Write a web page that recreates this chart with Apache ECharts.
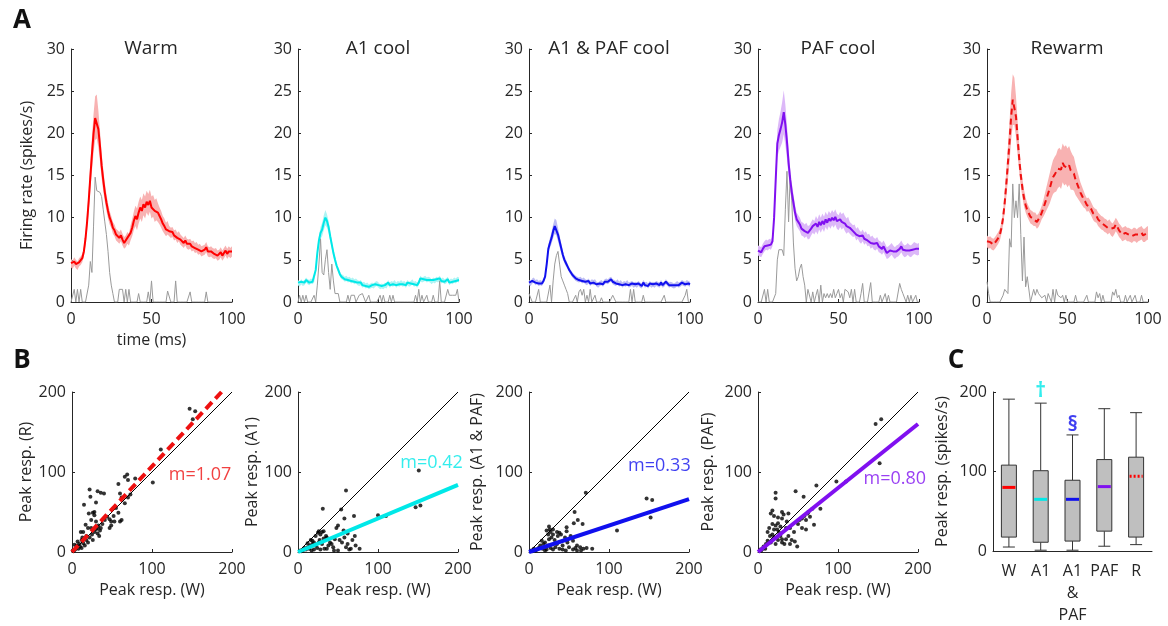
<!DOCTYPE html>
<html><head><meta charset="utf-8">
<script src="https://cdn.jsdelivr.net/npm/echarts@6/dist/echarts.min.js"></script>
<style>html,body{margin:0;padding:0;background:#fff}#c{width:1168px;height:626px}</style>
</head><body><div id="c"></div>
<script>
// ---------- Panel A data (1 ms bins, 0..100 ms) ----------
const conditions = ['Warm', 'A1 cool', 'A1 & PAF cool', 'PAF cool', 'Rewarm'];
const timeTicks = [0, 50, 100];
const rateTicks = [0, 5, 10, 15, 20, 25, 30];

const warmMean = [4.6,4.4,4.8,4.5,4.3,4.7,4.9,5.2,6.0,7.5,
 9.5,12.0,14.8,17.5,20.0,21.8,22.0,20.5,18.5,16.2,
 14.5,13.0,11.8,10.8,10.0,9.5,8.8,8.5,8.0,7.8,
 7.6,7.9,7.4,7.0,7.2,7.6,7.4,8.2,8.8,9.6,
 10.2,9.8,10.6,11.2,10.8,11.6,11.2,11.9,11.5,12.0,
 11.2,11.4,10.8,11.0,10.6,10.2,9.8,9.3,9.0,8.6,
 8.8,8.4,8.2,8.3,7.9,8.0,7.6,7.8,7.4,7.2,
 7.0,7.3,6.9,6.8,6.9,6.6,6.7,6.4,6.5,6.2,
 6.3,6.0,6.1,6.2,6.5,6.0,5.9,6.0,5.8,5.7,
 5.8,5.5,5.6,5.9,5.5,5.8,6.1,5.7,6.0,5.8,
 6.0];
const warmSem = [0.5,0.5,0.5,0.5,0.5,0.5,0.5,0.5,0.6,0.8,
 1.0,1.3,1.6,2.0,2.3,2.6,2.6,2.2,1.8,1.5,
 1.3,1.1,1.0,0.9,0.8,0.7,0.7,0.7,0.7,0.7,
 0.7,0.7,0.7,0.7,0.7,0.7,0.7,0.9,1.0,1.1,
 1.2,1.3,1.3,1.3,1.3,1.3,1.3,1.3,1.3,1.3,
 1.3,1.3,1.3,1.3,1.1,1.0,1.0,0.9,0.9,0.8,
 0.8,0.6,0.6,0.6,0.6,0.6,0.6,0.6,0.6,0.6,
 0.6,0.6,0.6,0.6,0.6,0.6,0.6,0.6,0.6,0.6,
 0.6,0.6,0.6,0.6,0.6,0.6,0.6,0.6,0.6,0.6,
 0.6,0.6,0.6,0.6,0.6,0.6,0.6,0.6,0.6,0.6,
 0.6];
const warmUnit = [0,0,1.5,0,1.5,0,1.5,0,0,0,
 0,2.0,4.8,3.5,9.0,14.8,13.2,13.2,13.0,12.5,
 11.0,9.5,8.0,6.0,3.5,2.0,1.0,0,0,0,
 1.5,1.5,1.5,0,1.5,0,1.5,0,0,0,
 0,0,1.0,0,0,0,0,0,1.2,0,
 2.5,0,0,0,0,0,0,0,0,0,
 1.3,1.3,0,0,0,2.5,0,0,0,0,
 0,0,0,0,1.2,0,0,0,0,0,
 0,0,0,0,1.2,0,0,0,0,0,
 0,0,0,0,0,0,0,0,0,0,
 0];

const a1Mean = [2.3,2.1,2.4,2.2,2.3,2.6,2.4,2.3,2.5,2.4,
 2.6,3.8,5.8,7.3,8.2,8.6,9.4,10.0,9.6,8.9,
 7.8,6.8,5.8,5.0,4.3,3.8,3.3,3.0,2.9,2.7,
 2.8,2.6,2.7,2.5,2.6,2.4,2.5,2.3,2.2,2.3,
 2.0,2.1,1.9,2.0,1.8,1.9,2.0,1.9,2.1,2.2,
 2.0,1.8,1.9,1.8,2.0,1.9,2.3,2.0,2.2,2.1,
 2.3,2.0,2.2,2.1,2.3,2.1,2.2,2.0,2.3,2.1,
 2.2,2.4,2.1,2.2,2.0,2.3,2.8,2.6,2.7,2.8,
 2.6,2.7,2.6,2.4,2.6,2.5,2.7,2.6,2.8,2.5,
 2.6,2.4,2.5,2.7,2.3,2.5,2.4,2.6,2.5,2.7,
 2.6];
const a1Sem = [0.3,0.3,0.3,0.3,0.3,0.3,0.3,0.3,0.3,0.3,
 0.3,0.4,0.5,0.6,0.7,0.8,0.9,0.9,0.8,0.7,
 0.6,0.5,0.4,0.4,0.3,0.3,0.3,0.3,0.3,0.3,
 0.3,0.3,0.3,0.3,0.3,0.3,0.3,0.3,0.3,0.3,
 0.3,0.3,0.3,0.3,0.3,0.3,0.3,0.3,0.3,0.3,
 0.3,0.3,0.3,0.3,0.3,0.3,0.3,0.3,0.3,0.3,
 0.3,0.3,0.3,0.3,0.3,0.3,0.3,0.3,0.3,0.3,
 0.3,0.3,0.3,0.3,0.3,0.3,0.3,0.3,0.3,0.3,
 0.3,0.3,0.3,0.3,0.3,0.3,0.3,0.3,0.3,0.3,
 0.3,0.3,0.3,0.3,0.3,0.3,0.3,0.3,0.3,0.3,
 0.3];
const a1Unit = [0,0.8,0,0.8,0,0.8,0,0,0,0,
 0.8,0,2.0,4.5,7.5,3.5,3.2,5.0,6.2,3.5,
 1.5,4.5,2.5,1.0,1.0,1.0,0,0,0,0,
 0,0.8,0,0.8,0.8,0.8,0,0,0.8,1.0,
 1.0,0.8,0,0,0.8,0,0,0,0,0,
 0,0.8,0,0.8,0,0,0,0.8,0,0.8,
 0,0,0,0,0,0,0,0,0,0,
 0,0,0,0.8,0,1.5,0,0.8,0,0,
 0.8,0,0,0,0.8,0,0,0,2.5,0,
 0,0,0,1.5,0.8,0.8,0.8,0.8,0.8,1.5,
 0];

const bothMean = [2.3,2.2,2.5,2.6,2.3,2.4,2.2,2.3,2.2,2.5,
 3.0,4.5,6.3,7.0,7.6,8.4,9.0,8.8,8.0,7.2,
 6.4,5.6,5.0,4.6,4.2,3.8,3.5,3.2,3.0,2.8,
 2.7,2.6,2.7,2.5,2.6,2.4,2.3,2.5,2.2,2.4,
 2.3,2.4,2.1,2.0,2.2,2.3,2.1,2.4,2.5,2.4,
 2.6,2.7,2.4,2.3,2.2,2.4,2.1,2.3,2.0,2.2,
 2.1,2.3,2.0,2.1,2.2,2.0,2.1,2.0,2.2,2.0,
 1.9,2.3,2.0,2.1,1.9,2.2,2.0,2.1,2.0,2.2,
 2.1,2.0,2.3,2.0,2.1,2.4,2.2,2.0,2.1,2.0,
 1.9,2.0,2.2,2.0,2.1,2.3,2.2,2.1,2.3,2.2,
 2.1];
const bothSem = [0.3,0.3,0.3,0.3,0.3,0.3,0.3,0.3,0.3,0.3,
 0.3,0.4,0.5,0.6,0.7,0.8,0.9,0.9,0.8,0.7,
 0.6,0.5,0.4,0.4,0.3,0.3,0.3,0.3,0.3,0.3,
 0.3,0.3,0.3,0.3,0.3,0.3,0.3,0.3,0.3,0.3,
 0.3,0.3,0.3,0.3,0.3,0.3,0.3,0.3,0.3,0.3,
 0.3,0.3,0.3,0.3,0.3,0.3,0.3,0.3,0.3,0.3,
 0.3,0.3,0.3,0.3,0.3,0.3,0.3,0.3,0.3,0.3,
 0.3,0.3,0.3,0.3,0.3,0.3,0.3,0.3,0.3,0.3,
 0.3,0.3,0.3,0.3,0.3,0.3,0.3,0.3,0.3,0.3,
 0.3,0.3,0.3,0.3,0.3,0.3,0.3,0.3,0.3,0.3,
 0.3];
const bothUnit = [1.0,1.0,0,0,0,0,1.5,0,0,0,
 0,0,0,2.0,0,2.5,4.5,5.5,6.0,4.5,
 3.0,2.5,2.0,1.5,1.0,0,0,0,0,0.8,
 0,1.2,1.5,0.8,1.5,0,0.8,0,1.5,0,
 0,0.8,0,0,0,0.5,0,0,0,0,
 0,0,0.8,0.8,0,0,0,0,0,0,
 0,0,0,1.5,0,1.5,0,0,0,0,
 0,0.8,0,0,0,0,0,0,0,0,
 0,0,0,0,0.8,0,0,0,0,0,
 0,0,0,0,0,0,0,0.8,1.5,0,
 0];

const pafMean = [6.1,6.0,5.9,6.3,6.6,6.8,6.7,6.9,6.8,7.2,
 10.0,14.5,18.8,19.8,20.5,21.3,22.5,21.0,19.0,16.5,
 14.5,13.0,11.8,10.6,9.8,9.5,9.2,8.7,8.6,8.4,
 8.6,8.2,8.3,8.7,9.0,8.8,9.3,8.9,9.5,9.1,
 9.6,9.2,9.8,9.4,9.9,9.6,10.0,9.7,10.1,9.6,
 9.4,9.8,9.5,9.7,9.3,9.0,9.2,8.8,8.6,8.4,
 8.5,8.0,8.2,7.8,7.6,7.9,7.5,7.7,7.3,7.4,
 7.0,7.2,6.9,6.8,7.0,6.6,6.5,6.3,6.6,6.2,
 5.8,5.9,6.1,6.3,6.0,5.8,6.0,6.1,6.3,6.6,
 6.2,6.0,6.1,6.3,6.1,6.0,6.2,6.4,6.3,6.2,
 6.3];
const pafSem = [0.6,0.6,0.6,0.6,0.6,0.6,0.6,0.6,0.6,0.6,
 0.9,1.2,1.6,1.9,2.1,2.4,2.6,2.4,2.0,1.6,
 1.3,1.1,1.0,0.9,0.8,0.8,0.8,0.8,0.8,0.8,
 0.8,0.8,0.8,0.8,0.8,0.8,0.9,0.9,0.9,0.9,
 0.9,0.9,0.9,0.9,0.9,0.9,0.9,0.9,0.9,0.9,
 0.9,0.9,0.9,0.9,0.9,0.9,0.9,0.7,0.7,0.7,
 0.7,0.7,0.7,0.7,0.7,0.7,0.7,0.7,0.7,0.7,
 0.7,0.7,0.7,0.7,0.7,0.7,0.7,0.7,0.7,0.7,
 0.7,0.7,0.7,0.7,0.7,0.7,0.7,0.7,0.7,0.7,
 0.7,0.7,0.7,0.7,0.7,0.7,0.7,0.7,0.7,0.7,
 0.7];
const pafUnit = [0,0,0,0,1.5,0,1.5,0,0,0,
 0,1.0,5.0,6.2,6.0,6.2,5.5,11.0,15.5,9.5,
 15.0,12.0,7.0,4.0,2.5,3.0,4.0,4.5,3.0,2.0,
 0,1.5,1.5,0,1.2,0,0.8,1.5,0,2.0,
 0,1.0,0.5,1.0,0.5,1.0,0.5,1.5,0.5,1.0,
 1.5,0.5,1.0,0,1.5,1.5,1.2,0.5,1.5,0,
 1.5,0,0,0,1.0,2.2,0,0,0,0,
 2.3,0,0,0,0,0,0.8,0,0,1.0,
 0,0.8,0,0,0,0,0,0,2.2,1.5,
 1.0,0.8,0,0.8,0,0.8,0,0,0.8,0,
 0];

const rewarmMean = [7.2,7.0,7.1,6.9,6.8,7.0,7.3,7.6,8.0,8.8,
 10.0,11.8,14.0,16.5,19.0,22.0,24.0,23.8,22.0,19.5,
 17.0,15.0,13.5,12.3,11.5,10.9,10.5,10.1,10.0,9.8,
 9.8,9.5,9.7,10.1,10.6,11.1,11.7,12.3,12.9,13.5,
 14.2,14.8,15.1,15.3,15.8,16.0,15.7,16.5,16.1,16.3,
 15.9,16.2,15.6,15.4,15.2,14.5,14.0,13.5,13.0,12.6,
 12.2,11.9,11.5,11.6,11.3,10.9,10.5,10.3,10.2,9.8,
 9.6,9.4,9.3,9.1,9.0,8.8,9.0,8.7,8.5,8.8,
 9.2,8.9,8.5,8.3,8.0,8.1,8.2,8.0,8.0,7.9,
 7.8,8.0,8.0,7.8,8.0,8.1,8.2,7.9,7.9,8.1,
 8.2];
const rewarmSem = [0.7,0.7,0.7,0.7,0.7,0.7,0.7,0.7,0.7,0.7,
 0.9,1.2,1.6,2.0,2.4,2.8,3.0,2.8,2.4,2.0,
 1.6,1.3,1.1,1.0,0.9,0.8,0.8,0.8,0.8,0.8,
 0.8,0.8,0.8,0.8,0.8,1.0,1.2,1.4,1.6,1.8,
 1.9,2.0,2.1,2.2,2.3,2.3,2.3,2.3,2.3,2.3,
 2.3,2.3,2.3,2.1,2.0,1.8,1.6,1.4,1.2,1.1,
 1.0,0.8,0.8,0.8,0.8,0.8,0.8,0.8,0.8,0.8,
 0.8,0.8,0.8,0.8,0.8,0.8,0.8,0.8,0.8,0.8,
 0.8,0.8,0.8,0.8,0.8,0.8,0.8,0.8,0.8,0.8,
 0.8,0.8,0.8,0.8,0.8,0.8,0.8,0.8,0.8,0.8,
 0.8];
const rewarmUnit = [2.4,1.0,0,0,0,0,0,0,0,0,
 0.8,1.5,1.5,1.0,7.5,6.5,14.0,10.0,12.0,10.0,
 14.0,8.0,2.5,7.7,1.8,3.0,3.0,0,0,1.5,
 0.8,1.5,1.0,1.2,0.5,0.5,0.8,0,1.0,0.5,
 0,1.5,0,1.5,0.8,1.0,0.5,0.8,0,0.8,
 0,0,0,0,0,0.8,0,0,0,0,
 0,0,0.8,0,0,0,0,0,1.2,0.5,
 1.0,0,0.8,0,0,0,0,0,1.2,0.8,
 1.5,0.5,0.8,0,0,0,0.8,0,0,0.8,
 0,0,0.8,0,0,0,0.8,0,0,0,
 0];

// ---------- Panel B data: [peak W, peak under condition] ----------
const peakTicks = [0, 100, 200];
const slopes = [1.07, 0.42, 0.33, 0.80];
const scatterR = [[147,179],[154,176],[151,166],[111,128],[101,87],[66,94],[69,97],[79,92],[70,90],[58,85],
 [60,73],[22,78],[32,76],[36,74],[40,73],[66,61],[58,49],[15,59],[23,69],[30,62],
 [21,48],[26,49],[28,50],[28,46],[24,40],[30,38],[41,40],[47,41],[49,38],[53,38],
 [60,38],[62,40],[17,34],[14,25],[11,25],[20,30],[24,30],[32,23],[28,25],[32,30],
 [47,30],[49,33],[26,15],[12,15],[7,13],[3,9],[5,5],[1,2],[10,7],[14,11],
 [18,15],[8,4],[4,3],[2,1],[6,8],[9,10],[12,5],[16,8],[20,12],[22,18],
 [25,22],[30,28],[35,27],[34,20],[18,20],[13,18],[70,68],[73,72],[62,68],[55,55],
 [52,45],[44,44],[38,35],[36,30],[33,33]];
const scatterA1 = [[151,102],[147,56],[153,58],[110,45],[100,46],[31,54],[60,77],[54,53],[58,42],[70,45],
 [71,20],[77,4],[62,23],[50,33],[48,30],[57,27],[55,12],[62,10],[68,15],[72,8],
 [66,4],[50,2],[40,12],[35,20],[30,25],[28,22],[25,24],[22,20],[27,15],[32,17],
 [36,18],[20,12],[18,10],[15,8],[14,4],[12,6],[10,3],[8,5],[6,2],[4,1],
 [3,2],[24,5],[28,3],[33,4],[38,8],[42,10],[46,16],[20,3],[17,2],[22,8],
 [30,10],[26,12],[36,4],[44,6],[52,15],[58,18],[64,3],[60,6],[18,14],[12,11],
 [16,15],[45,2],[32,26],[26,26]];
const scatterA1PAF = [[71,74],[57,50],[61,40],[56,36],[67,35],[47,31],[47,26],[110,27],[147,67],[154,65],
 [152,43],[25,32],[22,27],[27,25],[30,22],[35,25],[38,24],[40,22],[45,18],[48,12],
 [52,20],[55,14],[60,8],[64,6],[68,4],[72,5],[79,4],[60,2],[55,3],[50,6],
 [42,8],[38,4],[33,6],[30,3],[27,5],[24,8],[20,12],[18,10],[16,14],[14,8],
 [12,5],[10,3],[8,2],[6,4],[4,1],[3,2],[20,2],[17,4],[22,3],[25,16],
 [28,18],[32,15],[35,10],[42,3],[46,2],[65,2],[58,5],[36,20],[26,28],[24,22],
 [30,28]];
const scatterPAF = [[147,160],[154,166],[152,111],[98,88],[110,88],[73,83],[47,76],[22,74],[22,67],[57,69],
 [78,54],[70,34],[60,28],[49,7],[18,52],[16,48],[20,45],[25,43],[30,50],[32,47],
 [25,36],[18,35],[22,33],[28,32],[35,30],[40,30],[45,25],[50,35],[52,40],[55,42],
 [58,45],[60,40],[62,48],[65,44],[55,30],[38,20],[35,16],[30,12],[28,20],[25,15],
 [22,10],[20,18],[18,22],[15,20],[12,14],[10,10],[8,6],[6,4],[4,2],[3,3],
 [14,30],[12,25],[42,15],[46,13],[40,10],[33,10],[30,16],[26,25],[24,28],[20,28],
 [16,12],[9,4],[7,7],[36,38],[63,50],[68,54],[38,48],[30,42]];

// ---------- Panel C data: [min, q1, median, q3, max] ----------
const boxCats = ['W', 'A1', 'A1\n&\nPAF', 'PAF', 'R'];
const boxStats = [[5,17.5,80,108,191],[1,11,65,101,186],[1,12.5,65,89,146],[6,25,81,115,179],[8,17.5,94,118,174]];
const markSymbols = [['†', 1, 201], ['§', 2, 159]];

// ---------- build ----------
const FONT = 'Open Sans';
const TXT = '#262626';
const timeMs = warmMean.map((_, i) => i);
const panelA = [
  {mean: warmMean, sem: warmSem, unit: warmUnit, color: '#ff0000', band: '#f8b2b2', dash: false},
  {mean: a1Mean, sem: a1Sem, unit: a1Unit, color: '#00e8e8', band: '#aef4f4', dash: false},
  {mean: bothMean, sem: bothSem, unit: bothUnit, color: '#1010ee', band: '#bcbcf4', dash: false},
  {mean: pafMean, sem: pafSem, unit: pafUnit, color: '#8010f0', band: '#dcb8f8', dash: false},
  {mean: rewarmMean, sem: rewarmSem, unit: rewarmUnit, color: '#ee1111', band: '#f8b2b2', dash: true}
];
const aLeft = [71, 298, 529, 758, 987];
const bLeft = [72, 298, 529, 758];
const bNames = ['Peak resp. (R)', 'Peak resp. (A1)', 'Peak resp. (A1 & PAF)', 'Peak resp. (PAF)'];
const bNameGap = [37, 37, 44, 42];
const bColors = ['#ee1111', '#00e8e8', '#1010ee', '#8010f0'];
const bData = [scatterR, scatterA1, scatterA1PAF, scatterPAF];
const mPos = [[160, 96], [167, 111], [163, 108], [171, 92]];
const medColors = ['#ff0000', '#00e8e8', '#1010ee', '#8010f0', '#ff0000'];

const axLine = {show: true, lineStyle: {color: TXT, width: 1}};
const axTick = {show: true, inside: true, length: 3, lineStyle: {color: TXT}};
const lab = (extra) => Object.assign({color: TXT, fontSize: 16, fontFamily: FONT}, extra || {});

const grid = [], xAxis = [], yAxis = [], series = [], graphic = [];

panelA.forEach((p, i) => {
  grid.push({left: aLeft[i], top: 49, width: 161, height: 253});
  xAxis.push({type: 'value', gridIndex: i, min: timeTicks[0], max: timeTicks[2], interval: 50,
    axisLine: axLine, axisTick: axTick, splitLine: {show: false}, axisLabel: lab({margin: 9}),
    name: i === 0 ? 'time (ms)' : '', nameLocation: 'middle', nameGap: 30, nameTextStyle: lab()});
  yAxis.push({type: 'value', gridIndex: i, min: rateTicks[0], max: rateTicks[6], interval: 5,
    axisLine: axLine, axisTick: axTick, splitLine: {show: false}, axisLabel: lab({margin: 6}),
    name: i === 0 ? 'Firing rate (spikes/s)' : '', nameLocation: 'middle', nameGap: 36, nameTextStyle: lab()});
  const common = {xAxisIndex: i, yAxisIndex: i, silent: true, animation: false};
  // SEM band as one polygon drawn through the axis scales
  series.push(Object.assign({type: 'custom', data: [[0]], z: 1,
    renderItem: (params, api) => {
      const upper = timeMs.map(k => api.coord([k, p.mean[k] + p.sem[k]]));
      const lower = timeMs.map(k => api.coord([k, p.mean[k] - p.sem[k]])).reverse();
      return {type: 'polygon', shape: {points: upper.concat(lower)}, style: {fill: p.band}};
    }}, common));
  series.push(Object.assign({type: 'line', symbol: 'none', data: timeMs.map(k => [k, p.unit[k]]),
    lineStyle: {color: '#9a9a9a', width: 1}, z: 2}, common));
  series.push(Object.assign({type: 'line', symbol: 'none', data: timeMs.map(k => [k, p.mean[k]]),
    lineStyle: {color: p.color, width: 2, type: p.dash ? [6, 4] : 'solid'}, z: 3}, common));
  graphic.push({type: 'text', x: aLeft[i] + 80, y: 49, z: 10, style: {text: conditions[i], fontSize: 19, fontFamily: FONT,
    fill: TXT, align: 'center', verticalAlign: 'middle'}});
});

bData.forEach((pts, j) => {
  const gi = 5 + j;
  grid.push({left: bLeft[j], top: 392, width: 160, height: 160});
  xAxis.push({type: 'value', gridIndex: gi, min: 0, max: 200, interval: 100,
    axisLine: axLine, axisTick: axTick, splitLine: {show: false}, axisLabel: lab({margin: 9}),
    name: 'Peak resp. (W)', nameLocation: 'middle', nameGap: 30, nameTextStyle: lab()});
  yAxis.push({type: 'value', gridIndex: gi, min: 0, max: 200, interval: 100,
    axisLine: axLine, axisTick: axTick, splitLine: {show: false}, axisLabel: lab({margin: 6}),
    name: bNames[j], nameLocation: 'middle', nameGap: bNameGap[j], nameTextStyle: lab()});
  const common = {xAxisIndex: gi, yAxisIndex: gi, silent: true, animation: false};
  series.push(Object.assign({type: 'line', symbol: 'none', data: [[peakTicks[0], peakTicks[0]], [peakTicks[2], peakTicks[2]]],
    lineStyle: {color: '#000', width: 1}, z: 2}, common));
  series.push(Object.assign({type: 'scatter', data: pts, symbolSize: 4, itemStyle: {color: '#000'}, z: 3}, common));
  const m = slopes[j];
  const xEnd = Math.min(200, 200 / m);
  series.push(Object.assign({type: 'line', symbol: 'none', data: [[0, 0], [xEnd, xEnd * m]],
    lineStyle: {color: bColors[j], width: 4, type: j === 0 ? [9, 5] : 'solid'}, z: 4}, common));
  series.push(Object.assign({type: 'scatter', data: [mPos[j]], symbolSize: 1, itemStyle: {color: 'rgba(0,0,0,0)'},
    label: {show: true, position: 'inside', formatter: 'm=' + m.toFixed(2), color: bColors[j], fontSize: 18, fontFamily: FONT}, z: 5}, common));
});

// Panel C
grid.push({left: 993, top: 392, width: 159, height: 160});
xAxis.push({type: 'category', gridIndex: 9, data: boxCats, axisLine: axLine, axisTick: {show: false},
  axisLabel: lab({margin: 9, lineHeight: 22, interval: 0})});
yAxis.push({type: 'value', gridIndex: 9, min: 0, max: 200, interval: 100, axisLine: axLine, axisTick: axTick,
  splitLine: {show: false}, axisLabel: lab({margin: 6}),
  name: 'Peak resp. (spikes/s)', nameLocation: 'middle', nameGap: 43, nameTextStyle: lab()});
series.push({type: 'custom', xAxisIndex: 9, yAxisIndex: 9, silent: true, animation: false, clip: false,
  data: boxStats.map((s, i) => [i].concat(s)),
  renderItem: (params, api) => {
    const idx = api.value(0);
    const lo = api.coord([idx, api.value(1)]), q1 = api.coord([idx, api.value(2)]),
      med = api.coord([idx, api.value(3)]), q3 = api.coord([idx, api.value(4)]), hi = api.coord([idx, api.value(5)]);
    const x = lo[0], hw = 7.5, cw = 6;
    const st = {stroke: '#333', lineWidth: 1};
    return {type: 'group', children: [
      {type: 'line', shape: {x1: x, y1: hi[1], x2: x, y2: q3[1]}, style: st},
      {type: 'line', shape: {x1: x, y1: q1[1], x2: x, y2: lo[1]}, style: st},
      {type: 'line', shape: {x1: x - cw, y1: hi[1], x2: x + cw, y2: hi[1]}, style: st},
      {type: 'line', shape: {x1: x - cw, y1: lo[1], x2: x + cw, y2: lo[1]}, style: st},
      {type: 'rect', shape: {x: x - hw, y: q3[1], width: 2 * hw, height: q1[1] - q3[1]}, style: {fill: '#bfbfbf', stroke: '#333', lineWidth: 1}},
      {type: 'line', shape: {x1: x - hw + 1, y1: med[1], x2: x + hw - 1, y2: med[1]},
        style: {stroke: medColors[idx], lineWidth: 3, lineDash: idx === 4 ? [2, 2] : null}}
    ]};
  }});
series.push({type: 'scatter', xAxisIndex: 9, yAxisIndex: 9, silent: true, animation: false, clip: false,
  symbolSize: 1, itemStyle: {color: 'rgba(0,0,0,0)'},
  data: markSymbols.map((m, k) => ({value: [m[1], m[2]], name: m[0],
    label: {show: true, position: 'inside', formatter: m[0], fontSize: 21, fontWeight: 'bold', fontFamily: FONT,
      color: k === 0 ? '#00e8e8' : '#1010ee'}}))});

[['A', 22, 21], ['B', 22, 361], ['C', 956, 361]].forEach(l => graphic.push({type: 'text', x: l[1], y: l[2],
  style: {text: l[0], fontSize: 26, fontWeight: 'bold', fontFamily: FONT, fill: '#111', align: 'center', verticalAlign: 'middle'}}));

const chart = echarts.init(document.getElementById('c'), null, {renderer: 'canvas'});
chart.setOption({animation: false, backgroundColor: '#fff', grid, xAxis, yAxis, series, graphic});
</script></body></html>
